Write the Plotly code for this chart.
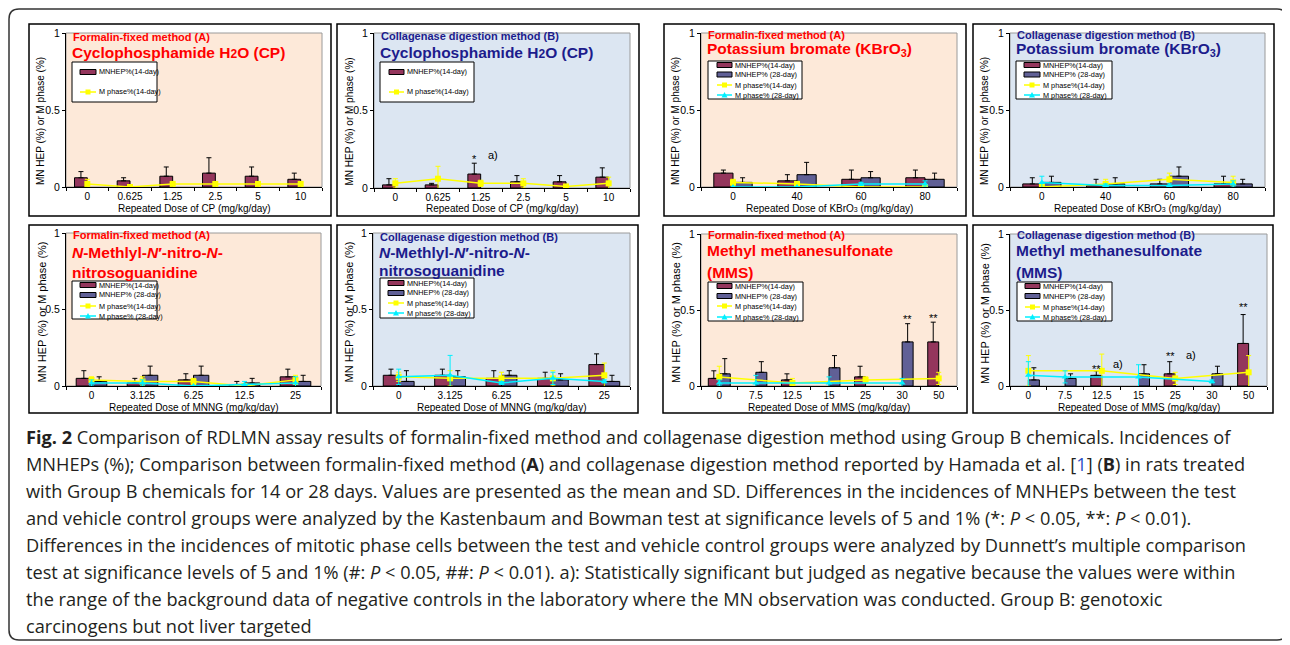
import plotly.graph_objects as go

# The page body has an 8px default margin, so the figure is drawn 8px in from the top-left.
OFF = 8
W, H = 1282, 637


def px(x):
    return (x - OFF) / W


def py(y):
    return 1 - (y - OFF) / H


# ---------------- data ----------------
cp_doses = ["0", "0.625", "1.25", "2.5", "5", "10"]
cpA_mnhep14 = [0.06, 0.04, 0.07, 0.09, 0.07, 0.05]
cpA_mnhep14_sd = [0.04, 0.02, 0.06, 0.10, 0.06, 0.04]
cpA_mphase14 = [0.02, 0.00, 0.02, 0.02, 0.02, 0.02]
cpA_mphase14_sd = [0.03, 0.00, 0.01, 0.01, 0.01, 0.01]

cpB_mnhep14 = [0.02, 0.02, 0.09, 0.04, 0.04, 0.07]
cpB_mnhep14_sd = [0.04, 0.01, 0.07, 0.04, 0.04, 0.06]
cpB_mphase14 = [0.03, 0.06, 0.03, 0.03, 0.01, 0.03]
cpB_mphase14_sd = [0.03, 0.08, 0.02, 0.03, 0.01, 0.04]

kbro3_doses = ["0", "40", "60", "80"]
kbA_mnhep14 = [0.09, 0.04, 0.05, 0.06]
kbA_mnhep14_sd = [0.02, 0.04, 0.06, 0.05]
kbA_mnhep28 = [0.03, 0.08, 0.06, 0.05]
kbA_mnhep28_sd = [0.03, 0.08, 0.04, 0.04]
kbA_mphase14 = [0.03, 0.02, 0.00, 0.00]
kbA_mphase14_sd = [0.02, 0.01, 0.00, 0.00]
kbA_mphase28 = [0.00, 0.00, 0.02, 0.02]
kbA_mphase28_sd = [0.00, 0.00, 0.01, 0.02]

kbB_mnhep14 = [0.02, 0.01, 0.02, 0.02]
kbB_mnhep14_sd = [0.04, 0.04, 0.03, 0.05]
kbB_mnhep28 = [0.03, 0.02, 0.07, 0.02]
kbB_mnhep28_sd = [0.04, 0.04, 0.06, 0.03]
kbB_mphase14 = [0.00, 0.02, 0.05, 0.03]
kbB_mphase14_sd = [0.00, 0.03, 0.04, 0.04]
kbB_mphase28 = [0.03, 0.01, 0.01, 0.02]
kbB_mphase28_sd = [0.04, 0.01, 0.01, 0.02]

mnng_doses = ["0", "3.125", "6.25", "12.5", "25"]
mnA_mnhep14 = [0.05, 0.02, 0.04, 0.01, 0.06]
mnA_mnhep14_sd = [0.05, 0.03, 0.04, 0.02, 0.05]
mnA_mnhep28 = [0.03, 0.07, 0.07, 0.02, 0.03]
mnA_mnhep28_sd = [0.03, 0.06, 0.06, 0.03, 0.04]
mnA_mphase14 = [0.04, 0.03, 0.03, 0.00, 0.04]
mnA_mphase14_sd = [0.02, 0.03, 0.02, 0.00, 0.03]
mnA_mphase28 = [0.02, 0.02, 0.00, 0.01, 0.02]
mnA_mphase28_sd = [0.02, 0.02, 0.00, 0.02, 0.04]

mnB_mnhep14 = [0.07, 0.07, 0.05, 0.05, 0.14]
mnB_mnhep14_sd = [0.04, 0.04, 0.05, 0.04, 0.07]
mnB_mnhep28 = [0.03, 0.06, 0.07, 0.04, 0.03]
mnB_mnhep28_sd = [0.07, 0.04, 0.03, 0.04, 0.04]
mnB_mphase14 = [0.06, 0.05, 0.05, 0.05, 0.07]
mnB_mphase14_sd = [0.03, 0.05, 0.04, 0.05, 0.08]
mnB_mphase28 = [0.06, 0.07, 0.02, 0.05, 0.03]
mnB_mphase28_sd = [0.05, 0.13, 0.01, 0.04, 0.01]

mms_doses = ["0", "7.5", "12.5", "15", "25", "30", "50"]
msA_mnhep14 = [0.05, None, 0.04, None, 0.06, None, 0.29]
msA_mnhep14_sd = [0.05, None, 0.04, None, 0.07, None, 0.13]
msA_mnhep28 = [0.08, 0.09, None, 0.12, None, 0.29, None]
msA_mnhep28_sd = [0.10, 0.07, None, 0.08, None, 0.12, None]
msA_mphase14 = [0.06, None, 0.02, None, 0.04, None, 0.05]
msA_mphase14_sd = [0.07, None, 0.03, None, 0.02, None, 0.04]
msA_mphase28 = [0.02, 0.02, None, 0.02, None, 0.02, None]
msA_mphase28_sd = [0.02, 0.05, None, 0.04, None, 0.03, None]

msB_mnhep14 = [None, None, 0.07, None, 0.08, None, 0.28]
msB_mnhep14_sd = [None, None, 0.03, None, 0.08, None, 0.19]
msB_mnhep28 = [0.04, 0.05, None, 0.08, None, 0.08, None]
msB_mnhep28_sd = [0.08, 0.03, None, 0.06, None, 0.05, None]
msB_mphase14 = [0.10, None, 0.10, None, 0.05, None, 0.09]
msB_mphase14_sd = [0.10, None, 0.11, None, 0.04, None, 0.11]
msB_mphase28 = [0.07, 0.06, None, 0.06, None, 0.03, None]
msB_mphase28_sd = [0.09, 0.04, None, 0.08, None, 0.01, None]

# significance marks: (panel, dose, y, text, pixel shift)
sig_marks = [
    (2, "1.25", 0.185, "*", -6),
    (2, "1.25", 0.21, "a)", 5),
    (7, "30", 0.44, "**", 5),
    (7, "50", 0.45, "**", -5),
    (8, "12.5", 0.115, "**", -5),
    (8, "12.5", 0.145, "a)", 9),
    (8, "25", 0.195, "**", -5),
    (8, "25", 0.205, "a)", 9),
    (8, "50", 0.52, "**", -5),
]

legend_labels = ["MNHEP%(14-day)", "MNHEP% (28-day)", "M phase%(14-day)", "M phase% (28-day)"]
legend_labels_cp = ["MNHEP%(14-day)", "M phase%(14-day)"]

caption_lines = [
    "<b>Fig. 2</b> Comparison of RDLMN assay results of formalin-fixed method and collagenase digestion method using Group B chemicals. Incidences of",
    "MNHEPs (%); Comparison between formalin-fixed method (<b>A</b>) and collagenase digestion method reported by Hamada et al. [<span style='color:#2a4fc8'>1</span>] (<b>B</b>) in rats treated",
    "with Group B chemicals for 14 or 28 days. Values are presented as the mean and SD. Differences in the incidences of MNHEPs between the test",
    "and vehicle control groups were analyzed by the Kastenbaum and Bowman test at significance levels of 5 and 1% (*: <i>P</i> &lt; 0.05, **: <i>P</i> &lt; 0.01).",
    "Differences in the incidences of mitotic phase cells between the test and vehicle control groups were analyzed by Dunnett’s multiple comparison",
    "test at significance levels of 5 and 1% (#: <i>P</i> &lt; 0.05, ##: <i>P</i> &lt; 0.01). a): Statistically significant but judged as negative because the values were within",
    "the range of the background data of negative controls in the laboratory where the MN observation was conducted. Group B: genotoxic",
    "carcinogens but not liver targeted",
]

# ---------------- styles ----------------
RED = "#FF0000"
NAVY = "#1C1C8C"
BG_A = "#FDE9D9"
BG_B = "#DCE6F2"
C14 = "#94365C"
C28 = "#606096"
YEL = "#FFFF00"
CYA = "#00F0FF"
AXFONT = "Liberation Sans"

panels = [
    dict(doses=cp_doses, mn14=cpA_mnhep14, mn14sd=cpA_mnhep14_sd, mn28=None, mn28sd=None,
         m14=cpA_mphase14, m14sd=cpA_mphase14_sd, m28=None, m28sd=None,
         method="A", name=["Cyclophosphamide H<span style='font-size:12px'>2</span>O (CP)"],
         xt="Repeated Dose of CP (mg/kg/day)",
         frame=(29, 24, 331, 216), plot=(66, 33, 322, 187),
         head_y=[37, 52], legbox=(72, 62, 157, 102), legrows=[72, 92], legsw=(80, 96)),
    dict(doses=cp_doses, mn14=cpB_mnhep14, mn14sd=cpB_mnhep14_sd, mn28=None, mn28sd=None,
         m14=cpB_mphase14, m14sd=cpB_mphase14_sd, m28=None, m28sd=None,
         method="B", name=["Cyclophosphamide H<span style='font-size:12px'>2</span>O (CP)"],
         xt="Repeated Dose of CP (mg/kg/day)",
         frame=(337, 24, 639, 216), plot=(374, 33, 630, 188),
         head_y=[36, 52], legbox=(380, 62, 474, 102), legrows=[72, 92], legsw=(389, 404)),
    dict(doses=kbro3_doses, mn14=kbA_mnhep14, mn14sd=kbA_mnhep14_sd, mn28=kbA_mnhep28, mn28sd=kbA_mnhep28_sd,
         m14=kbA_mphase14, m14sd=kbA_mphase14_sd, m28=kbA_mphase28, m28sd=kbA_mphase28_sd,
         method="A", name=["Potassium bromate (KBrO<sub>3</sub>)"],
         xt="Repeated Dose of KBrO<span style='font-size:7px'>3</span> (mg/kg/day)",
         frame=(664, 24, 966, 216), plot=(701, 33, 957, 187),
         head_y=[35, 50], legbox=(708, 61, 802, 99), legrows=[65, 74.5, 85, 95], legsw=(717, 732)),
    dict(doses=kbro3_doses, mn14=kbB_mnhep14, mn14sd=kbB_mnhep14_sd, mn28=kbB_mnhep28, mn28sd=kbB_mnhep28_sd,
         m14=kbB_mphase14, m14sd=kbB_mphase14_sd, m28=kbB_mphase28, m28sd=kbB_mphase28_sd,
         method="B", name=["Potassium bromate (KBrO<sub>3</sub>)"],
         xt="Repeated Dose of KBrO<span style='font-size:7px'>3</span> (mg/kg/day)",
         frame=(973, 24, 1274, 216), plot=(1010, 33, 1265, 187),
         head_y=[35, 50], legbox=(1016, 61, 1112, 99), legrows=[65, 74.5, 85, 95], legsw=(1024, 1040)),
    dict(doses=mnng_doses, mn14=mnA_mnhep14, mn14sd=mnA_mnhep14_sd, mn28=mnA_mnhep28, mn28sd=mnA_mnhep28_sd,
         m14=mnA_mphase14, m14sd=mnA_mphase14_sd, m28=mnA_mphase28, m28sd=mnA_mphase28_sd,
         method="A", name=["<i>N</i>-Methlyl-<i>N</i>′-nitro-<i>N</i>-", "nitrosoguanidine"],
         xt="Repeated Dose of MNNG (mg/kg/day)",
         frame=(29, 225, 331, 413), plot=(66, 233, 321, 386),
         head_y=[235, 252, 272], legbox=(72, 281, 157, 319), legrows=[285, 295, 306, 316], legsw=(80, 96)),
    dict(doses=mnng_doses, mn14=mnB_mnhep14, mn14sd=mnB_mnhep14_sd, mn28=mnB_mnhep28, mn28sd=mnB_mnhep28_sd,
         m14=mnB_mphase14, m14sd=mnB_mphase14_sd, m28=mnB_mphase28, m28sd=mnB_mphase28_sd,
         method="B", name=["<i>N</i>-Methlyl-<i>N</i>′-nitro-<i>N</i>-", "nitrosoguanidine"],
         xt="Repeated Dose of MNNG (mg/kg/day)",
         frame=(337, 225, 638, 413), plot=(373, 233, 630, 386),
         head_y=[237, 252, 271], legbox=(380, 278, 474, 318), legrows=[283, 293, 303, 313], legsw=(388, 404)),
    dict(doses=mms_doses, mn14=msA_mnhep14, mn14sd=msA_mnhep14_sd, mn28=msA_mnhep28, mn28sd=msA_mnhep28_sd,
         m14=msA_mphase14, m14sd=msA_mphase14_sd, m28=msA_mphase28, m28sd=msA_mphase28_sd,
         method="A", name=["Methyl methanesulfonate", "(MMS)"],
         xt="Repeated Dose of MMS (mg/kg/day)",
         frame=(663, 225, 967, 413), plot=(701, 234, 957, 386),
         head_y=[235, 251, 272], legbox=(708, 282, 803, 321), legrows=[286, 296, 306, 317], legsw=(717, 732)),
    dict(doses=mms_doses, mn14=msB_mnhep14, mn14sd=msB_mnhep14_sd, mn28=msB_mnhep28, mn28sd=msB_mnhep28_sd,
         m14=msB_mphase14, m14sd=msB_mphase14_sd, m28=msB_mphase28, m28sd=msB_mphase28_sd,
         method="B", name=["Methyl methanesulfonate", "(MMS)"],
         xt="Repeated Dose of MMS (mg/kg/day)",
         frame=(973, 225, 1273, 413), plot=(1010, 234, 1267, 386),
         head_y=[235, 251, 272], legbox=(1017, 282, 1112, 321), legrows=[286, 296, 307, 317], legsw=(1025, 1040)),
]

fig = go.Figure()
shapes = []
annotations = []
layout_axes = {}


def zeros_like(a):
    return [0 if v is not None else None for v in a]


# outer rounded border
x0b, y0b, x1b, y1b, r = 9, 9, 1287, 640, 10
path = (f"M {px(x0b + r)},{py(y0b)} L {px(x1b - r)},{py(y0b)} Q {px(x1b)},{py(y0b)} {px(x1b)},{py(y0b + r)} "
        f"L {px(x1b)},{py(y1b - r)} Q {px(x1b)},{py(y1b)} {px(x1b - r)},{py(y1b)} "
        f"L {px(x0b + r)},{py(y1b)} Q {px(x0b)},{py(y1b)} {px(x0b)},{py(y1b - r)} "
        f"L {px(x0b)},{py(y0b + r)} Q {px(x0b)},{py(y0b)} {px(x0b + r)},{py(y0b)} Z")
shapes.append(dict(type="path", path=path, xref="paper", yref="paper",
                   line=dict(color="#333333", width=1.5), layer="below"))

for i, p in enumerate(panels, start=1):
    xa = "x" if i == 1 else f"x{i}"
    ya = "y" if i == 1 else f"y{i}"
    n = len(p["doses"])
    fx0, fy0, fx1, fy1 = p["frame"]
    ax0, ay0, ax1, ay1 = p["plot"]
    col = RED if p["method"] == "A" else NAVY
    bg = BG_A if p["method"] == "A" else BG_B

    # frame and plot background
    shapes.append(dict(type="rect", xref="paper", yref="paper", x0=px(fx0), x1=px(fx1), y0=py(fy1), y1=py(fy0),
                       line=dict(color="black", width=1.5), fillcolor="white", layer="below"))
    shapes.append(dict(type="rect", xref="paper", yref="paper", x0=px(ax0), x1=px(ax1), y0=py(ay1), y1=py(ay0),
                       line=dict(color="#9a9a9a", width=1), fillcolor=bg, layer="below"))

    layout_axes["xaxis" if i == 1 else f"xaxis{i}"] = dict(
        domain=[px(ax0), px(ax1)], anchor=ya, type="category", categoryorder="array",
        categoryarray=p["doses"], range=[-0.5, n - 0.5],
        showline=True, linecolor="black", linewidth=1, ticks="outside", tickson="boundaries",
        ticklen=3, tickcolor="black", showgrid=False, zeroline=False,
        tickfont=dict(family=AXFONT, size=10, color="black"), automargin=False, fixedrange=True)
    layout_axes["yaxis" if i == 1 else f"yaxis{i}"] = dict(
        domain=[py(ay1), py(ay0)], anchor=xa, range=[0, 1], tickvals=[0, 0.5, 1], ticktext=["0", "0.5", "1"],
        showline=True, linecolor="black", linewidth=1, ticks="outside", ticklen=3, tickcolor="black",
        showgrid=False, zeroline=False, tickfont=dict(family=AXFONT, size=10.5, color="black"),
        automargin=False, fixedrange=True)

    # bars
    fig.add_trace(go.Bar(x=p["doses"], y=p["mn14"], width=0.3, offset=-0.3, xaxis=xa, yaxis=ya,
                         marker=dict(color=C14, line=dict(color="black", width=1)),
                         error_y=dict(type="data", symmetric=False, array=p["mn14sd"],
                                      arrayminus=zeros_like(p["mn14sd"]), color="black", thickness=1, width=2.5),
                         showlegend=False))
    if p["mn28"] is not None:
        fig.add_trace(go.Bar(x=p["doses"], y=p["mn28"], width=0.3, offset=0.0, xaxis=xa, yaxis=ya,
                             marker=dict(color=C28, line=dict(color="black", width=1)),
                             error_y=dict(type="data", symmetric=False, array=p["mn28sd"],
                                          arrayminus=zeros_like(p["mn28sd"]), color="black", thickness=1, width=2.5),
                             showlegend=False))
    # lines
    fig.add_trace(go.Scatter(x=p["doses"], y=p["m14"], mode="lines+markers", xaxis=xa, yaxis=ya, connectgaps=True,
                             line=dict(color=YEL, width=1.5), marker=dict(symbol="square", size=6, color=YEL),
                             error_y=dict(type="data", array=p["m14sd"], color=YEL, thickness=1, width=2.5),
                             showlegend=False))
    if p["m28"] is not None:
        fig.add_trace(go.Scatter(x=p["doses"], y=p["m28"], mode="lines+markers", xaxis=xa, yaxis=ya, connectgaps=True,
                                 line=dict(color=CYA, width=1.5), marker=dict(symbol="triangle-up", size=6, color=CYA),
                                 error_y=dict(type="data", array=p["m28sd"], color=CYA, thickness=1, width=2.5),
                                 showlegend=False))

    # headings
    method_txt = "Formalin-fixed method (A)" if p["method"] == "A" else "Collagenase digestion method (B)"
    annotations.append(dict(x=px(ax0 + 5), y=py(p["head_y"][0]), xref="paper", yref="paper", text=method_txt,
                            showarrow=False, xanchor="left", yanchor="middle",
                            font=dict(family="Liberation Sans", size=11, color=col, weight="bold")))
    for k, line in enumerate(p["name"]):
        annotations.append(dict(x=px(ax0 + 4), y=py(p["head_y"][k + 1]), xref="paper", yref="paper", text=line,
                                showarrow=False, xanchor="left", yanchor="middle",
                                font=dict(family="Liberation Sans", size=15.5, color=col, weight="bold")))

    # axis titles
    top_row = fy0 < 100
    annotations.append(dict(x=px(ax0 - 25), y=py((ay0 + ay1) / 2 + (11 if top_row else 3)), xref="paper",
                            yref="paper", text="MN HEP (%) or M phase (%)", textangle=-90, showarrow=False,
                            xanchor="center", yanchor="middle",
                            font=dict(family=AXFONT, size=10 if top_row else 11, color="black")))
    annotations.append(dict(x=px((ax0 + ax1) / 2), y=py(ay1 + 21), xref="paper", yref="paper", text=p["xt"],
                            showarrow=False, xanchor="center", yanchor="middle",
                            font=dict(family=AXFONT, size=10, color="black")))

    # custom legend
    lx0, ly0, lx1, ly1 = p["legbox"]
    shapes.append(dict(type="rect", xref="paper", yref="paper", x0=px(lx0), x1=px(lx1), y0=py(ly1), y1=py(ly0),
                       line=dict(color="black", width=1), fillcolor="white", layer="above"))
    if len(p["legrows"]) == 2:
        kinds = [("bar", C14), ("sq", YEL)]
        labels = legend_labels_cp
    else:
        kinds = [("bar", C14), ("bar", C28), ("sq", YEL), ("tri", CYA)]
        labels = legend_labels
    sx0, sx1 = p["legsw"]
    for (kind, c), ry, lab in zip(kinds, p["legrows"], labels):
        if kind == "bar":
            shapes.append(dict(type="rect", xref="paper", yref="paper", x0=px(sx0), x1=px(sx1),
                               y0=py(ry + 2.5), y1=py(ry - 2.5), fillcolor=c,
                               line=dict(color="black", width=1), layer="above"))
        else:
            shapes.append(dict(type="line", xref="paper", yref="paper", x0=px(sx0), x1=px(sx1),
                               y0=py(ry), y1=py(ry), line=dict(color=c, width=1.5), layer="above"))
            mx = (sx0 + sx1) / 2
            if kind == "sq":
                shapes.append(dict(type="rect", xref="paper", yref="paper", x0=px(mx - 2.5), x1=px(mx + 2.5),
                                   y0=py(ry + 2.5), y1=py(ry - 2.5), fillcolor=c, line=dict(width=0), layer="above"))
            else:
                tri = f"M {px(mx - 3)},{py(ry + 2.5)} L {px(mx + 3)},{py(ry + 2.5)} L {px(mx)},{py(ry - 3)} Z"
                shapes.append(dict(type="path", path=tri, xref="paper", yref="paper", fillcolor=c,
                                   line=dict(width=0), layer="above"))
        annotations.append(dict(x=px(sx1 + 1), y=py(ry), xref="paper", yref="paper", text=lab, showarrow=False,
                                xanchor="left", yanchor="middle",
                                font=dict(family=AXFONT, size=7.3, color="black")))

# significance marks (category axes: position by category index)
for (pi, dose, yv, txt, shift) in sig_marks:
    xa = "x" if pi == 1 else f"x{pi}"
    ya = "y" if pi == 1 else f"y{pi}"
    idx = panels[pi - 1]["doses"].index(dose)
    annotations.append(dict(x=idx, y=yv, xref=xa, yref=ya, text=txt, showarrow=False, xshift=shift,
                            xanchor="center" if "*" in txt else "left", yanchor="middle",
                            font=dict(family=AXFONT, size=11, color="black")))

# caption
for k, line in enumerate(caption_lines):
    annotations.append(dict(x=px(24), y=py(437 + 27 * k), xref="paper", yref="paper", text=line,
                            showarrow=False, xanchor="left", yanchor="middle",
                            font=dict(family="Open Sans", size=18.2, color="#231F20")))

fig.update_layout(
    template="none", width=W, height=H, margin=dict(l=0, r=0, t=0, b=0),
    paper_bgcolor="white", plot_bgcolor="rgba(0,0,0,0)", showlegend=False,
    barmode="overlay", shapes=shapes, annotations=annotations, **layout_axes)

fig.write_html("out.html")
